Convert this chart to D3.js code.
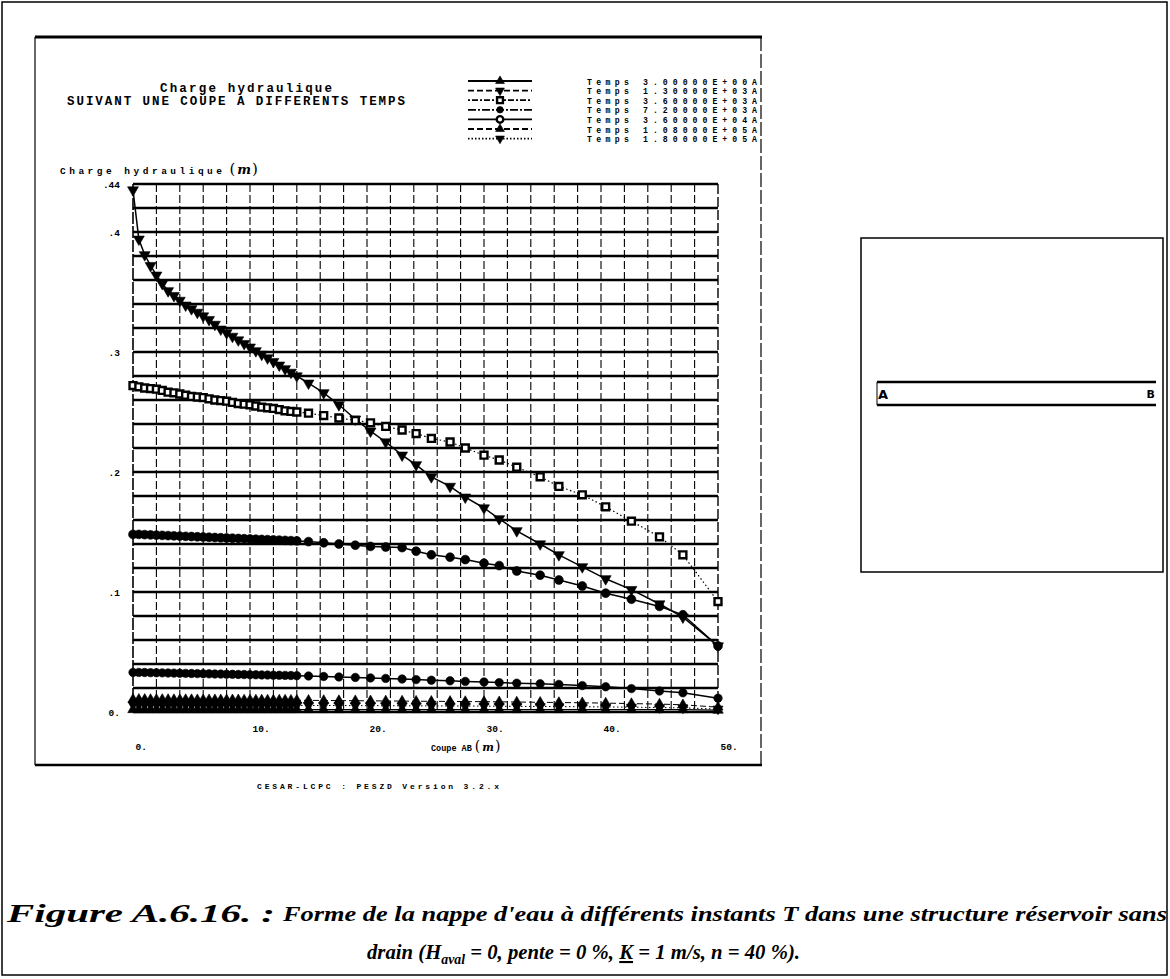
<!DOCTYPE html>
<html><head><meta charset="utf-8">
<script src="https://cdn.jsdelivr.net/npm/d3@7"></script>
<style>body{margin:0;background:#fff}svg{display:block}</style>
</head><body>
<svg id="c" width="1170" height="979"></svg>
<script>
// ---------------- DATA ----------------
const xNodes = [0,0.5,1,1.5,2,2.5,3,3.5,4,4.5,5,5.5,6,6.5,7,7.5,8,8.5,9,9.5,10,10.5,11,11.5,12,12.5,13,13.5,14,
  15,16.3,17.6,19,20.3,21.6,23,24.2,25.5,27.1,28.4,30,31.3,32.8,34.8,36.4,38.4,40.4,42.6,45,47,50];

const T_3 = [0.002,0.002,0.002,0.002,0.002,0.002,0.002,0.002,0.002,0.002,0.002,0.002,0.002,0.002,0.002,0.002,0.002,0.002,0.002,0.002,
  0.002,0.002,0.002,0.002,0.002,0.002,0.002,0.002,0.002,0.002,0.002,0.002,0.002,0.002,0.002,0.002,0.002,0.002,0.002,0.002,
  0.002,0.002,0.002,0.002,0.002,0.002,0.002,0.002,0.002,0.002,0.0015];
const T_1300 = [0.435,0.394,0.381,0.372,0.364,0.357,0.351,0.347,0.343,0.339,0.336,0.333,0.330,0.327,0.323,0.319,0.316,0.313,0.310,0.307,
  0.304,0.301,0.298,0.295,0.292,0.289,0.286,0.283,0.280,0.274,0.266,0.256,0.244,0.234,0.225,0.214,0.206,0.196,0.188,0.179,
  0.170,0.161,0.151,0.140,0.131,0.121,0.111,0.102,0.090,0.079,0.055];
const T_3600 = [0.272,0.271,0.270,0.2695,0.269,0.268,0.2665,0.266,0.265,0.264,0.263,0.2625,0.262,0.261,0.260,0.2595,0.259,0.258,0.257,0.2565,
  0.256,0.255,0.254,0.2535,0.253,0.252,0.251,0.2505,0.250,0.249,0.247,0.245,0.243,0.241,0.238,0.235,0.232,0.228,0.225,0.220,
  0.214,0.210,0.204,0.196,0.188,0.181,0.171,0.159,0.146,0.131,0.092];
const T_7200 = [0.148,0.148,0.1478,0.1476,0.1474,0.1472,0.147,0.1468,0.1466,0.1464,0.1462,0.146,0.1458,0.1456,0.1454,0.1452,0.145,0.1448,0.1446,0.1444,
  0.1442,0.144,0.1438,0.1436,0.1434,0.1432,0.143,0.1428,0.1426,0.142,0.141,0.140,0.139,0.138,0.1375,0.137,0.134,0.131,0.129,0.127,
  0.124,0.122,0.1175,0.114,0.110,0.105,0.099,0.094,0.088,0.081,0.055];
const T_36000 = [0.033,0.033,0.0329,0.0328,0.0327,0.0326,0.0325,0.0324,0.0323,0.0322,0.0321,0.032,0.0319,0.0318,0.0317,0.0316,0.0315,0.0314,0.0313,0.0312,
  0.0311,0.031,0.0309,0.0308,0.0307,0.0306,0.0305,0.0304,0.0303,0.030,0.0296,0.0292,0.0288,0.0284,0.028,0.0275,0.027,0.0265,0.026,0.0255,
  0.025,0.0245,0.024,0.0235,0.023,0.022,0.021,0.0195,0.0175,0.016,0.0115];
const T_108000 = [0.0105,0.0105,0.0105,0.0104,0.0104,0.0104,0.0104,0.0103,0.0103,0.0103,0.0103,0.0102,0.0102,0.0102,0.0102,0.0101,0.0101,0.0101,0.0101,0.0100,
  0.0100,0.0100,0.0100,0.0099,0.0099,0.0099,0.0099,0.0098,0.0098,0.0097,0.0096,0.0095,0.0094,0.0093,0.0092,0.0091,0.0090,0.0089,0.0088,0.0087,
  0.0086,0.0085,0.0083,0.0081,0.0079,0.0077,0.0074,0.0070,0.0066,0.0060,0.0040];
const T_180000 = [0.0060,0.0060,0.0060,0.0060,0.0060,0.0059,0.0059,0.0059,0.0059,0.0059,0.0058,0.0058,0.0058,0.0058,0.0058,0.0057,0.0057,0.0057,0.0057,0.0057,
  0.0056,0.0056,0.0056,0.0056,0.0056,0.0055,0.0055,0.0055,0.0055,0.0055,0.0054,0.0054,0.0053,0.0053,0.0052,0.0052,0.0051,0.0051,0.0050,0.0050,
  0.0049,0.0048,0.0047,0.0046,0.0045,0.0044,0.0042,0.0040,0.0037,0.0034,0.0025];

const timeLabels = ["3.00000E+00","1.30000E+03","3.60000E+03","7.20000E+03","3.60000E+04","1.08000E+05","1.80000E+05"];
const xTickValues = [0,10,20,30,40,50];
const xTickLabels = ["0.","10.","20.","30.","40.","50."];
const yTickValues = [0,0.1,0.2,0.3,0.4,0.44];
const yTickLabels = ["0.",".1",".2",".3",".4",".44"];

// ---------------- STYLES ----------------
const seriesList = [
  {data:T_3,      sym:"triUp",   dash:null,         legDash:null,          lw:1.2, ms:48},
  {data:T_1300,   sym:"triDown", dash:null,         legDash:"6,3",         lw:1.5, ms:52},
  {data:T_3600,   sym:"square",  dash:"1.5,2.5",    legDash:"2,2,6,2",     lw:1.2, ms:48},
  {data:T_7200,   sym:"circle",  dash:null,         legDash:"8,2,2,2",     lw:1.5, ms:62},
  {data:T_36000,  sym:"circle",  dash:null,         legDash:null,          lw:1.5, ms:56},
  {data:T_108000, sym:"triUp",   dash:"6,3",        legDash:"6,3",         lw:1.0, ms:44},
  {data:T_180000, sym:"triDown", dash:"1.5,2.5",    legDash:"1.5,2",       lw:1.0, ms:44}
];

const MONO = "'Liberation Mono','DejaVu Sans Mono',monospace";
const svg = d3.select("#c");
const x = d3.scaleLinear().domain([0,50]).range([133,718]);
const y = d3.scaleLinear().domain([0,0.44]).range([712,184]);

function symPath(s, size){
  if(s==="triUp"||s==="triDown") return d3.symbol(d3.symbolTriangle, size)();
  if(s==="square") return d3.symbol(d3.symbolSquare, size)();
  if(s==="diamond") return d3.symbol(d3.symbolDiamond, size)();
  return d3.symbol(d3.symbolCircle, size)();
}
function drawMarker(g, s, size, cx, cy, hollow){
  const p = g.append("path").attr("d", symPath(s,size))
    .attr("transform", `translate(${cx},${cy})` + (s==="triDown"?" rotate(180)":""));
  if(s==="square" || hollow){ p.attr("fill","#fff").attr("stroke","#000").attr("stroke-width",2.4); }
  else { p.attr("fill","#000").attr("stroke","#000").attr("stroke-width",0.6); }
  return p;
}

// page frame
svg.append("rect").attr("x",2).attr("y",2).attr("width",1165).attr("height",973)
  .attr("fill","none").attr("stroke","#000").attr("stroke-width",1.5);

// figure frame
const fr = svg.append("g");
fr.append("line").attr("x1",35).attr("x2",762).attr("y1",37).attr("y2",37).attr("stroke","#000").attr("stroke-width",3);
fr.append("line").attr("x1",35).attr("x2",762).attr("y1",765).attr("y2",765).attr("stroke","#000").attr("stroke-width",2.5);
fr.append("line").attr("x1",35).attr("x2",35).attr("y1",37).attr("y2",765).attr("stroke","#000").attr("stroke-width",1.2);
fr.append("line").attr("x1",761).attr("x2",761).attr("y1",37).attr("y2",765).attr("stroke","#000").attr("stroke-width",1.2).attr("stroke-dasharray","14,3");

// title
svg.append("text").attr("x",246).attr("y",92).attr("text-anchor","middle")
  .attr("font-family",MONO).attr("font-weight","bold").attr("font-size",12.5)
  .attr("textLength",172).attr("lengthAdjust","spacing").text("Charge hydraulique");
svg.append("text").attr("x",67).attr("y",105)
  .attr("font-family",MONO).attr("font-weight","bold").attr("font-size",12.5)
  .attr("textLength",338).attr("lengthAdjust","spacing").text("SUIVANT UNE COUPE A DIFFERENTS TEMPS");

// legend
const lg = svg.append("g");
seriesList.forEach((s,i)=>{
  const ly = 81 + i*9.6;
  const ln = lg.append("line").attr("x1",468).attr("x2",532).attr("y1",ly).attr("y2",ly)
    .attr("stroke","#000").attr("stroke-width",1.8);
  if(s.legDash) ln.attr("stroke-dasharray", s.legDash);
  drawMarker(lg, s.sym, 34, 500, ly, i===4);
  lg.append("text").attr("x",587).attr("y",ly+3.5).attr("font-family",MONO).attr("font-weight","bold")
    .attr("font-size",8.2).attr("textLength",42).attr("lengthAdjust","spacing").text("Temps");
  lg.append("text").attr("x",643).attr("y",ly+3.5).attr("font-family",MONO).attr("font-weight","bold")
    .attr("font-size",8.2).attr("textLength",114).attr("lengthAdjust","spacing").text(timeLabels[i]+"A");
});

// y label
const yl = svg.append("text").attr("x",60).attr("y",174).attr("font-family",MONO).attr("font-weight","bold").attr("font-size",9.5);
yl.append("tspan").attr("textLength",162).attr("lengthAdjust","spacing").text("Charge hydraulique");
yl.append("tspan").attr("dx",4).attr("font-size",15).attr("font-weight","normal").attr("font-family","'DejaVu Serif',serif").text("(");
yl.append("tspan").attr("dx",2).attr("font-size",13).attr("font-style","italic").attr("font-family","'DejaVu Serif',serif").text("m");
yl.append("tspan").attr("dx",1).attr("font-size",15).attr("font-weight","normal").attr("font-family","'DejaVu Serif',serif").text(")");

// grid
const grid = svg.append("g");
const hLines = d3.range(0, 0.44+1e-9, 0.02);
grid.selectAll("line.h").data(hLines).join("line").attr("class","h")
  .attr("x1",x(0)).attr("x2",x(50)).attr("y1",d=>y(d)).attr("y2",d=>y(d))
  .attr("stroke","#000").attr("stroke-width",2.3);
const vLines = d3.range(2, 50, 2);
grid.selectAll("line.v").data(vLines).join("line").attr("class","v")
  .attr("x1",d=>x(d)).attr("x2",d=>x(d)).attr("y1",y(0.44)).attr("y2",y(0))
  .attr("stroke","#000").attr("stroke-width",1.1).attr("stroke-dasharray","8,3");
grid.append("line").attr("x1",x(0)).attr("x2",x(0)).attr("y1",y(0.44)).attr("y2",y(0)).attr("stroke","#000").attr("stroke-width",1.6).attr("stroke-dasharray","12,2");
grid.append("line").attr("x1",x(50)).attr("x2",x(50)).attr("y1",y(0.44)).attr("y2",y(0)).attr("stroke","#000").attr("stroke-width",1.4).attr("stroke-dasharray","10,3");

// axes labels
const yAxis = d3.axisLeft(y).tickValues(yTickValues).tickFormat((d,i)=>yTickLabels[i]).tickSize(0).tickPadding(13);
const ya = svg.append("g").attr("transform",`translate(${x(0)},0)`).call(yAxis);
ya.select(".domain").remove();
ya.selectAll("text").attr("font-family",MONO).attr("font-weight","bold").attr("font-size",9.5).attr("dy","0.35em");

const xAxis = d3.axisBottom(x).tickValues(xTickValues).tickFormat((d,i)=>xTickLabels[i]).tickSize(0).tickPadding(0);
const xa = svg.append("g").attr("transform",`translate(0,${y(0)})`).call(xAxis);
xa.select(".domain").remove();
xa.selectAll("text").attr("font-family",MONO).attr("font-weight","bold").attr("font-size",9.5)
  .attr("text-anchor","start").attr("dx",2)
  .attr("y",(d)=> (d===0||d===50)? 31 : 13);

const xl = svg.append("text").attr("x",431).attr("y",751).attr("font-family",MONO).attr("font-weight","bold").attr("font-size",8.5);
xl.append("tspan").text("Coupe AB");
xl.append("tspan").attr("dx",3).attr("font-size",14).attr("font-weight","normal").attr("font-family","'DejaVu Serif',serif").text("(");
xl.append("tspan").attr("dx",2).attr("font-size",11).attr("font-style","italic").attr("font-family","'DejaVu Serif',serif").text("m");
xl.append("tspan").attr("dx",1).attr("font-size",14).attr("font-weight","normal").attr("font-family","'DejaVu Serif',serif").text(")");

// footer
svg.append("text").attr("x",257).attr("y",789).attr("font-family",MONO).attr("font-weight","bold").attr("font-size",8)
  .attr("textLength",242).attr("lengthAdjust","spacing").text("CESAR-LCPC : PESZD  Version 3.2.x");

// series
const plot = svg.append("g");
const lineGen = d3.line().x((d,i)=>x(xNodes[i])).y(d=>y(d));
seriesList.forEach(s=>{
  const p = plot.append("path").datum(s.data).attr("d",lineGen).attr("fill","none")
    .attr("stroke","#000").attr("stroke-width",s.lw);
  if(s.dash) p.attr("stroke-dasharray",s.dash);
});
seriesList.forEach(s=>{
  const g = plot.append("g");
  s.data.forEach((v,i)=> drawMarker(g, s.sym, s.ms, x(xNodes[i]), y(v), false));
});

// right box
const rb = svg.append("g");
rb.append("rect").attr("x",861).attr("y",238).attr("width",302).attr("height",334)
  .attr("fill","none").attr("stroke","#000").attr("stroke-width",1.5);
rb.append("line").attr("x1",877).attr("x2",1156).attr("y1",382).attr("y2",382).attr("stroke","#000").attr("stroke-width",2.5);
rb.append("line").attr("x1",877).attr("x2",1156).attr("y1",405).attr("y2",405).attr("stroke","#000").attr("stroke-width",2.5);
rb.append("line").attr("x1",877).attr("x2",877).attr("y1",382).attr("y2",405).attr("stroke","#000").attr("stroke-width",1);
rb.append("text").attr("x",878).attr("y",399).attr("font-family","'DejaVu Sans',sans-serif").attr("font-weight","bold").attr("font-size",13).text("A");
rb.append("text").attr("x",1155).attr("y",398).attr("text-anchor","end").attr("font-family","'DejaVu Sans',sans-serif").attr("font-weight","bold").attr("font-size",11).text("B");

// caption
const SERIF = "'Liberation Serif','DejaVu Serif',serif";
svg.append("text").attr("x",7).attr("y",922).attr("font-family",SERIF).attr("font-style","italic").attr("font-weight","bold")
  .attr("font-size",26).attr("textLength",268).attr("lengthAdjust","spacingAndGlyphs").text("Figure A.6.16. :");
svg.append("text").attr("x",283).attr("y",921).attr("font-family",SERIF).attr("font-style","italic").attr("font-weight","bold")
  .attr("font-size",21).attr("textLength",884).attr("lengthAdjust","spacingAndGlyphs")
  .text("Forme de la nappe d'eau à différents instants T dans une structure réservoir sans");
const c2 = svg.append("text").attr("x",367).attr("y",959).attr("font-family",SERIF).attr("font-style","italic").attr("font-weight","bold").attr("font-size",21)
  .attr("textLength",433).attr("lengthAdjust","spacingAndGlyphs");
c2.append("tspan").text("drain (H");
c2.append("tspan").attr("font-size",14).attr("dy",5).text("aval");
c2.append("tspan").attr("dy",-5).text(" = 0, pente = 0 %, ");
c2.append("tspan").attr("text-decoration","underline").text("K");
c2.append("tspan").text(" = 1 m/s, n = 40 %).");
</script>
</body></html>
